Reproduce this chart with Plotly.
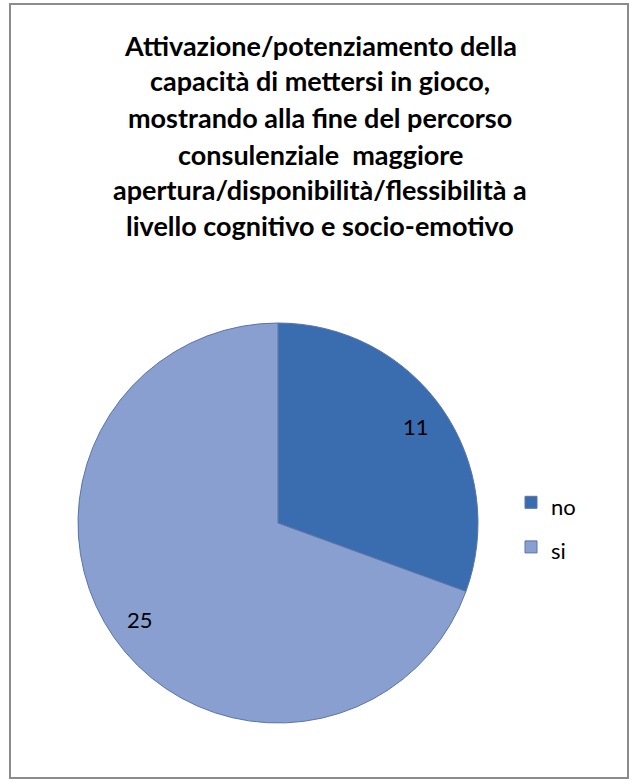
import math
import plotly.graph_objects as go

categories = ["no", "si"]
values = [11, 25]
colors = ["#3a6db0", "#889fd0"]
title_lines = [
    "Attivazione/potenziamento della",
    "capacità di mettersi in gioco,",
    "mostrando alla fine del percorso",
    "consulenziale  maggiore",
    "apertura/disponibilità/flessibilità a",
    "livello cognitivo e socio-emotivo",
]

W, H = 634, 783


def px(x):
    return x / W


def py(y):
    return 1 - y / H


CX, CY, R = 278, 523, 200
FONT = "Lato"

fig = go.Figure()
fig.add_trace(go.Pie(
    labels=['<span style="font-size:22px">' + c + "</span>" for c in categories],
    values=values,
    sort=False,
    direction="clockwise",
    rotation=0,
    marker=dict(colors=colors, line=dict(color="#5a74a8", width=1)),
    textinfo="none",
    domain=dict(x=[px(CX - R), px(CX + R)], y=[py(CY + R), py(CY - R)]),
    hovertext=categories,
    hoverinfo="text+value",
))

annotations = []
line_y = [45, 81, 117, 154, 190, 226]
for txt, yy in zip(title_lines, line_y):
    annotations.append(dict(
        text="<b>" + txt + "</b>", x=px(320), y=py(yy), xref="paper", yref="paper",
        showarrow=False, xanchor="center", yanchor="middle",
        font=dict(family=FONT, size=27, color="#000000"),
    ))

# data labels placed at the middle angle of each slice
total = sum(values)
cum = 0
for v in values:
    mid = (cum + v / 2) / total * 2 * math.pi
    cum += v
    r = 0.84 * R
    annotations.append(dict(
        text=str(v), x=px(CX + r * math.sin(mid)), y=py(CY - r * math.cos(mid)),
        xref="paper", yref="paper", showarrow=False,
        xanchor="center", yanchor="middle",
        font=dict(family=FONT, size=22, color="#000000"),
    ))

fig.update_layout(
    width=W, height=H,
    margin=dict(l=0, r=0, t=0, b=0),
    paper_bgcolor="white",
    plot_bgcolor="white",
    showlegend=True,
    legend=dict(
        x=px(511), y=py(475), xanchor="left", yanchor="top",
        font=dict(family=FONT, size=32, color="#000000"),
        itemwidth=30,
        bgcolor="rgba(0,0,0,0)",
    ),
    annotations=annotations,
    shapes=[dict(
        type="rect", xref="paper", yref="paper",
        x0=px(10), x1=px(628), y0=py(778), y1=py(4),
        line=dict(color="#8c8c8c", width=2), fillcolor="rgba(0,0,0,0)",
    )],
)

fig.write_html(
    "out.html",
    config={"displayModeBar": False},
    post_script="document.body.style.margin='0';document.body.style.overflow='hidden';",
)
